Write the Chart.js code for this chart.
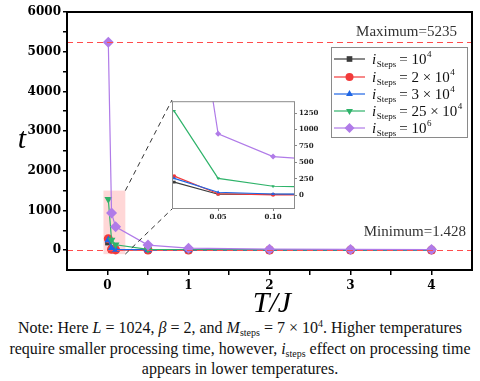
<!DOCTYPE html>
<html><head><meta charset="utf-8">
<script src="https://cdn.jsdelivr.net/npm/chart.js@4/dist/chart.umd.min.js"></script>
<style>
html,body{margin:0;padding:0;background:#fff;}
#wrap{position:relative;width:480px;height:381px;overflow:hidden;background:#fff;}
#main{position:absolute;left:0;top:0;}
#inset{position:absolute;left:160px;top:95px;}
#note{position:absolute;left:0;top:318px;width:480px;text-align:center;font-family:"Liberation Serif",serif;font-size:16px;line-height:20.5px;color:#111;white-space:nowrap;}
#note sub{font-size:10px;line-height:0;vertical-align:-3px;}
#note sup{font-size:10px;line-height:0;vertical-align:6px;}
</style></head>
<body><div id="wrap">
<canvas id="main" width="480" height="315" style="width:480px;height:315px"></canvas>
<canvas id="inset" width="160" height="130" style="width:160px;height:130px"></canvas>
<div id="note">Note: Here <i>L</i> = 1024, <i>β</i> = 2, and <i>M</i><sub>steps</sub> = 7 × 10<sup>4</sup>. Higher temperatures<br>require smaller processing time, however, <i>i</i><sub>steps</sub> effect on processing time<br>appears in lower temperatures.</div>
</div>
<script>
// ---- data ----
const T = [0.01, 0.05, 0.1, 0.5, 1, 2, 3, 4];
const steps1e4  = [200, 15, 12, 5, 3, 2, 1.8, 1.428];
const steps2e4  = [290, 22, 6, 5, 3, 2.5, 2, 1.6];
const steps3e4  = [256, 45, 18, 6, 4, 3, 2.5, 2];
const steps25e4 = [1280, 256, 136, 20, 10, 6, 5, 4];
const steps1e6  = [5235, 934, 587, 127, 50, 25, 18, 15];
const labelPrefix = ['', '2 \u00d7 ', '3 \u00d7 ', '25 \u00d7 ', ''];
const labelExp = ['4', '4', '4', '4', '6'];
const maxValue = 5235, minValue = 1.428;
const mainXTicks = [0, 1, 2, 3, 4];
const mainYTicks = [0, 1000, 2000, 3000, 4000, 5000, 6000];
const insetXTicks = [0.05, 0.10];
const insetYTicks = [0, 250, 500, 750, 1000, 1250];
const zoomBox = {x0: -0.05, x1: 0.22, y0: -100, y1: 1500};

const colors = ['#3c3c3c', '#f23a3a', '#1f66e5', '#2fb36a', '#b07be8'];
const styles = ['rect', 'circle', 'triangle', 'triangle', 'rectRot'];
const rots = [0, 0, 0, 180, 0];
const allSeries = [steps1e4, steps2e4, steps3e4, steps25e4, steps1e6];

function makeSets(r, bw) {
  return allSeries.map((vals, i) => ({
    data: T.map((x, j) => ({x, y: vals[j]})),
    borderColor: colors[i], backgroundColor: colors[i],
    pointStyle: styles[i], rotation: rots[i],
    pointRadius: i === 4 ? r + 1 : r, pointBorderWidth: 0, pointHoverRadius: r,
    borderWidth: bw, tension: 0, order: 5 - i
  }));
}

const serif = '"Liberation Serif", serif';
const cmBold = '"DejaVu Serif", serif';
const IN = {left: 172, top: 100, right: 295, bottom: 209}; // inset box in page px

const mainPlugin = {
  id: 'mainDeco',
  beforeDatasetsDraw(chart) {
    const {ctx, chartArea: a, scales: {x, y}} = chart;
    ctx.save();
    ctx.beginPath(); ctx.rect(a.left, a.top, a.right - a.left, a.bottom - a.top); ctx.clip();
    ctx.fillStyle = 'rgba(255,160,160,0.42)';
    const rx0 = x.getPixelForValue(zoomBox.x0), rx1 = x.getPixelForValue(zoomBox.x1);
    const ry0 = y.getPixelForValue(zoomBox.y1), ry1 = y.getPixelForValue(zoomBox.y0);
    ctx.fillRect(rx0, ry0, rx1 - rx0, ry1 - ry0);
    ctx.restore();
  },
  afterDatasetsDraw(chart) {
    const {ctx, chartArea: a, scales: {x, y}} = chart;
    ctx.save();
    ctx.strokeStyle = '#ff4d4d'; ctx.lineWidth = 1; ctx.setLineDash([6, 4]);
    [maxValue, minValue].forEach(v => {
      const py = Math.round(y.getPixelForValue(v)) + 0.5;
      ctx.beginPath(); ctx.moveTo(a.left, py); ctx.lineTo(a.right, py); ctx.stroke();
    });
    // connectors
    ctx.strokeStyle = '#333'; ctx.setLineDash([5, 4]);
    const rx1 = x.getPixelForValue(zoomBox.x1);
    ctx.beginPath(); ctx.moveTo(rx1, y.getPixelForValue(zoomBox.y1)); ctx.lineTo(IN.left, IN.top); ctx.stroke();
    ctx.beginPath(); ctx.moveTo(rx1, y.getPixelForValue(zoomBox.y0)); ctx.lineTo(IN.left, IN.bottom); ctx.stroke();
    ctx.setLineDash([]);
    // texts
    ctx.fillStyle = '#333'; ctx.font = '15px ' + serif; ctx.textAlign = 'right'; ctx.textBaseline = 'middle';
    ctx.fillText('Maximum=' + maxValue, 457, 32);
    ctx.fillText('Minimum=' + minValue, 466, 232);
    ctx.restore();
  },
  afterDraw(chart) {
    const {ctx, chartArea: a} = chart;
    ctx.save();
    ctx.strokeStyle = '#000'; ctx.lineWidth = 2;
    ctx.strokeRect(a.left, a.top, a.right - a.left, a.bottom - a.top);
    // axis titles
    ctx.fillStyle = '#000'; ctx.textAlign = 'center'; ctx.textBaseline = 'middle';
    ctx.font = 'italic 30px ' + serif;
    ctx.fillText('t', 22, 140);
    ctx.fillText('T/J', 272, 304);
    // legend
    const L = {x: 331, y: 47, w: 136, h: 90};
    ctx.fillStyle = '#fff'; ctx.fillRect(L.x, L.y, L.w, L.h);
    ctx.strokeStyle = '#8a8a8a'; ctx.lineWidth = 1;
    ctx.strokeRect(L.x + 0.5, L.y + 0.5, L.w, L.h);
    const rows = [59, 77, 94, 111, 128];
    rows.forEach((cy, i) => {
      ctx.strokeStyle = colors[i]; ctx.lineWidth = 1.2;
      ctx.beginPath(); ctx.moveTo(334, cy); ctx.lineTo(365, cy); ctx.stroke();
      ctx.fillStyle = colors[i];
      Chart.helpers.drawPoint(ctx, {pointStyle: styles[i], rotation: rots[i], radius: i === 4 ? 5 : 4, borderWidth: 0}, 349.5, cy);
      ctx.fillStyle = '#111'; ctx.textAlign = 'left'; ctx.textBaseline = 'alphabetic';
      let px = 372; const base = cy + 5;
      ctx.font = 'italic 15px ' + serif; ctx.fillText('i', px, base); px += ctx.measureText('i').width + 0.5;
      ctx.font = '9px ' + serif; ctx.fillText('Steps', px, base + 3); px += ctx.measureText('Steps').width + 3;
      ctx.font = '15px ' + serif; const s = '= ' + labelPrefix[i] + '10';
      ctx.fillText(s, px, base); px += ctx.measureText(s).width + 0.5;
      ctx.font = '9px ' + serif; ctx.fillText(labelExp[i], px, base - 7);
    });
    ctx.restore();
  }
};

const tickFont = {family: cmBold, size: 12, weight: 'bold'};
new Chart(document.getElementById('main'), {
  type: 'line',
  data: {datasets: makeSets(4.5, 1.2)},
  options: {
    responsive: false, animation: false, devicePixelRatio: 1,
    layout: {padding: {top: 12, right: 8, left: 0, bottom: 0}},
    plugins: {legend: {display: false}, tooltip: {enabled: false}},
    scales: {
      x: {
        type: 'linear', min: -0.5, max: 4.5,
        afterBuildTicks: s => { s.ticks = []; for (let v = 0; v <= 4; v += 0.5) s.ticks.push({value: v}); },
        afterFit: s => { s.height = 45; },
        ticks: {font: tickFont, color: '#000', padding: 4, maxRotation: 0,
          callback: v => mainXTicks.includes(v) ? String(v) : ''},
        grid: {drawOnChartArea: false, drawTicks: true, tickLength: 5, color: '#000', lineWidth: 1.5},
        border: {display: false}
      },
      y: {
        type: 'linear', min: -500, max: 6000,
        afterBuildTicks: s => { s.ticks = []; for (let v = 0; v <= 6000; v += 500) s.ticks.push({value: v}); },
        afterFit: s => { s.width = 67; },
        ticks: {font: tickFont, color: '#000', padding: 2,
          callback: v => mainYTicks.includes(v) ? String(v) : ''},
        grid: {drawOnChartArea: false, drawTicks: true, tickLength: 4, color: '#000', lineWidth: 1.5},
        border: {display: false}
      }
    }
  },
  plugins: [mainPlugin]
});

const insetPlugin = {
  id: 'insetDeco',
  beforeDraw(chart) {
    const {ctx, chartArea: a} = chart;
    ctx.save(); ctx.fillStyle = '#fff';
    ctx.fillRect(a.left, a.top, a.right - a.left, a.bottom - a.top); ctx.restore();
  },
  afterDraw(chart) {
    const {ctx, chartArea: a} = chart;
    ctx.save(); ctx.strokeStyle = '#8c8c8c'; ctx.lineWidth = 1;
    ctx.strokeRect(a.left + 0.5, a.top + 0.5, a.right - a.left - 1, a.bottom - a.top - 1);
    ctx.restore();
  }
};
const insetFont = {family: cmBold, size: 7, weight: 'bold'};
new Chart(document.getElementById('inset'), {
  type: 'line',
  data: {datasets: makeSets(2, 1.2)},
  options: {
    responsive: false, animation: false, devicePixelRatio: 1,
    layout: {padding: {top: 5, left: 12, right: 0, bottom: 0}},
    plugins: {legend: {display: false}, tooltip: {enabled: false}},
    scales: {
      x: {
        type: 'linear', min: 0.008, max: 0.12,
        afterBuildTicks: s => { s.ticks = insetXTicks.map(v => ({value: v})); },
        afterFit: s => { s.height = 16; },
        ticks: {font: insetFont, color: '#222', padding: 2, maxRotation: 0, callback: v => v.toFixed(2)},
        grid: {drawOnChartArea: false, tickLength: 2, color: '#888'},
        border: {display: false}
      },
      y: {
        type: 'linear', position: 'right', min: -210, max: 1430,
        afterBuildTicks: s => { s.ticks = insetYTicks.map(v => ({value: v})); },
        afterFit: s => { s.width = 25; },
        ticks: {font: insetFont, color: '#222', padding: 2, callback: v => String(v)},
        grid: {drawOnChartArea: false, tickLength: 2, color: '#888'},
        border: {display: false}
      }
    }
  },
  plugins: [insetPlugin]
});
</script>
</body></html>
